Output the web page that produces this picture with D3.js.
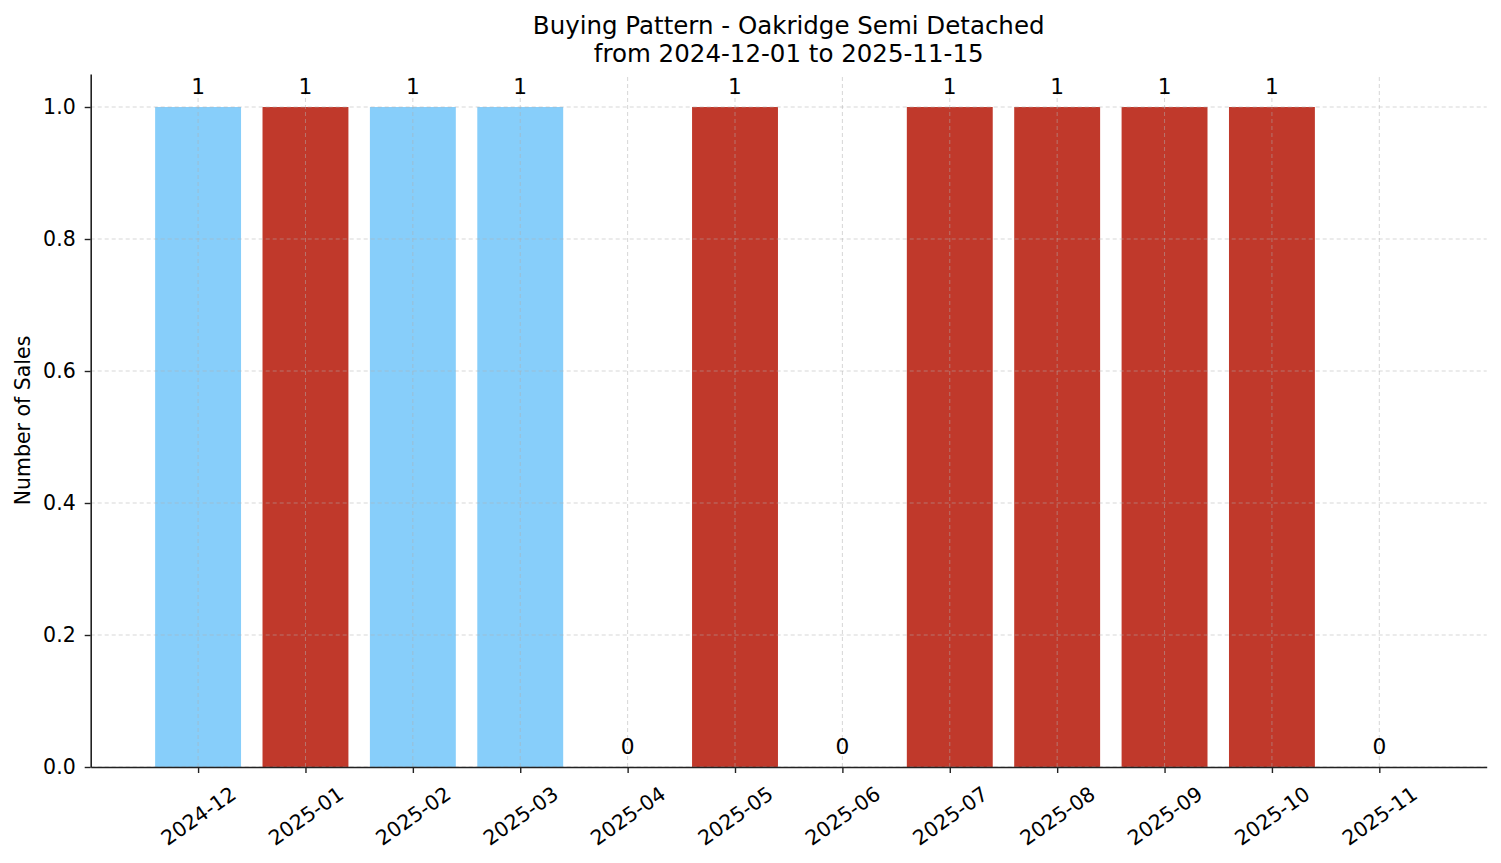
<!DOCTYPE html>
<html lang="en">
<head>
    <meta charset="UTF-8">
    <title>Buying Pattern - Oakridge Semi Detached</title>
    <script src="https://cdnjs.cloudflare.com/ajax/libs/d3/7.8.5/d3.min.js"></script>
    <style>
        body { margin: 0; background: #fff; }
        text { font-family: "DejaVu Sans", sans-serif; fill: #000; }
        .grid line { stroke: #b0b0b0; stroke-opacity: 0.5; stroke-dasharray: 4,3; stroke-width: 1px; }
        .axis path, .axis line { stroke: #222; }
    </style>
</head>
<body>
    <div id="chart"></div>

    <script>
        // data
        const months = ["2024-12", "2025-01", "2025-02", "2025-03", "2025-04", "2025-05",
                        "2025-06", "2025-07", "2025-08", "2025-09", "2025-10", "2025-11"];
        const sales = [1, 1, 1, 1, 0, 1, 0, 1, 1, 1, 1, 0];
        const barColors = ["#87CEFA", "#C0392B", "#87CEFA", "#87CEFA", "#C0392B", "#C0392B",
                           "#C0392B", "#C0392B", "#C0392B", "#C0392B", "#C0392B", "#C0392B"];
        const yTicks = [0, 0.2, 0.4, 0.6, 0.8, 1.0];

        const width = 1501, height = 863;
        const margin = { top: 74, right: 14.3, bottom: 96, left: 90.7 };

        const svg = d3.select("#chart").append("svg")
            .attr("width", width)
            .attr("height", height);

        // x is a linear scale over category index, like matplotlib
        const x = d3.scaleLinear()
            .domain([-1, months.length])
            .range([margin.left, width - margin.right]);
        const y = d3.scaleLinear()
            .domain([0, 1.05])
            .range([height - margin.bottom, margin.top]);
        const barW = x(0.8) - x(0);
        const idx = d3.range(months.length);

        // bars
        svg.append("g").selectAll("rect")
            .data(idx.filter(i => sales[i] > 0))
            .enter().append("rect")
            .attr("x", i => x(i) - barW / 2)
            .attr("width", barW)
            .attr("y", i => y(sales[i]))
            .attr("height", i => y(0) - y(sales[i]))
            .attr("fill", i => barColors[i]);

        // grid (drawn over bars)
        const grid = svg.append("g").attr("class", "grid");
        grid.selectAll(".gx").data(idx).enter().append("line")
            .attr("x1", i => x(i)).attr("x2", i => x(i))
            .attr("y1", y(0)).attr("y2", margin.top);
        grid.selectAll(".gy").data(yTicks).enter().append("line")
            .attr("x1", margin.left).attr("x2", width - margin.right)
            .attr("y1", d => y(d)).attr("y2", d => y(d));

        // value labels
        svg.append("g").selectAll("text")
            .data(idx)
            .enter().append("text")
            .attr("x", i => x(i))
            .attr("y", i => y(sales[i]) - 13)
            .attr("text-anchor", "middle")
            .style("font-size", "21.7px")
            .text(i => sales[i]);

        // y axis
        const yAxis = svg.append("g")
            .attr("class", "axis")
            .attr("transform", `translate(${margin.left},0)`)
            .call(d3.axisLeft(y).tickValues(yTicks).tickFormat(d3.format(".1f")).tickSize(6).tickPadding(9).tickSizeOuter(0));
        yAxis.select(".domain").attr("stroke-width", 1.6);
        yAxis.selectAll(".tick line").attr("stroke-width", 1.4);
        yAxis.selectAll("text").style("font-size", "20.5px").style("font-family", "DejaVu Sans");

        // x axis
        const xAxis = svg.append("g")
            .attr("class", "axis")
            .attr("transform", `translate(0,${y(0)})`)
            .call(d3.axisBottom(x).tickValues(idx).tickFormat(i => months[i]).tickSize(6).tickSizeOuter(0));
        xAxis.select(".domain").attr("stroke-width", 1.6);
        xAxis.selectAll(".tick line").attr("stroke-width", 1.4);
        xAxis.selectAll("text")
            .style("font-size", "20.5px")
            .style("font-family", "DejaVu Sans")
            .attr("text-anchor", "middle")
            .attr("dy", null)
            .attr("y", 0)
            .attr("dominant-baseline", "central")
            .attr("transform", "translate(0,49) rotate(-35)");

        // y axis label
        svg.append("text")
            .attr("transform", `translate(30,${(y(0) + y(1.05)) / 2}) rotate(-90)`)
            .attr("text-anchor", "middle")
            .style("font-size", "20.5px")
            .text("Number of Sales");

        // title
        const cx = (margin.left + width - margin.right) / 2;
        svg.append("text")
            .attr("x", cx).attr("y", 34)
            .attr("text-anchor", "middle")
            .style("font-size", "24.5px")
            .text("Buying Pattern - Oakridge Semi Detached");
        svg.append("text")
            .attr("x", cx).attr("y", 62)
            .attr("text-anchor", "middle")
            .style("font-size", "24.5px")
            .text("from 2024-12-01 to 2025-11-15");
    </script>
</body>
</html>
